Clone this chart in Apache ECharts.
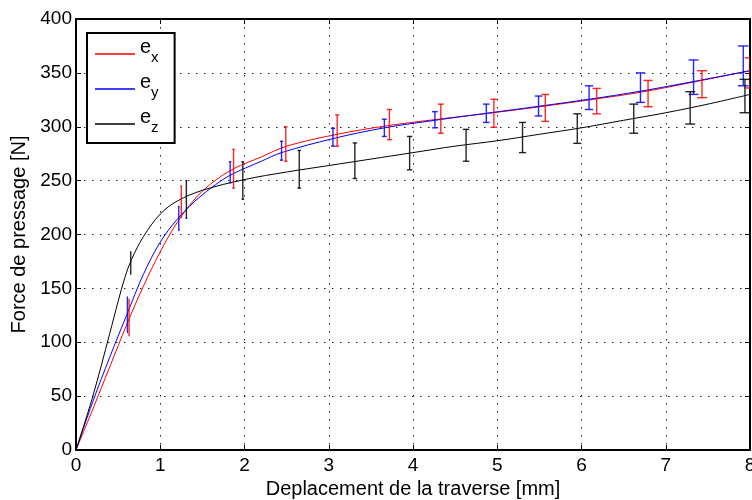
<!DOCTYPE html>
<html><head><meta charset="utf-8">
<script src="https://cdn.jsdelivr.net/npm/echarts@6/dist/echarts.min.js"></script>
<style>html,body{margin:0;padding:0;background:#fff}#c{width:752px;height:500px}</style>
</head><body><div id="c"></div>
<script>
// ---- data ----
const xTicks = [0,1,2,3,4,5,6,7,8];
const yTicks = [0,50,100,150,200,250,300,350,400];

const exX = [0,0.2,0.4,0.6,0.8,1.0,1.2,1.4,1.6,1.87,2.2,2.5,3.1,3.7,4.3,4.9,5.5,6.1,6.7,7.3,8.0];
const exY = [0,38,77,116,152,184,211,232,247,261,272,282,293,301,307,312.5,318.5,325,332,341,352];

const eyX = [0,0.2,0.4,0.6,0.8,1.0,1.2,1.4,1.6,1.83,2.2,2.44,3.05,3.66,4.26,4.87,5.49,6.09,6.7,7.33,8.0];
const eyY = [0,45,86,125,163,193,214,230,243,255,268,276,289,299,306,312.5,319,325.5,333,342,352];

const ezX = [0,0.2,0.4,0.5,0.58,0.66,0.8,1.0,1.2,1.5,2.0,2.5,3.0,3.5,4.0,4.5,5.0,5.5,6.0,6.5,7.0,7.5,8.0];
const ezY = [0,50,108,138,160,177,198,219,231,241,251,258,264,270,276,282,287,293,299,306,313,321,330];

const exErrX  = [0.63,1.25,1.87,2.49,3.10,3.72,4.33,4.96,5.57,6.18,6.79,7.43,8.0];
const exErrLo = [106,216,243,268,282,288,294,299.5,305,312,318.6,327,336];
const exErrHi = [140,245,279,300,311,316,321,325.5,330,335.6,343,352,364];

const eyErrX  = [0.61,1.22,1.83,2.44,3.05,3.66,4.26,4.87,5.49,6.09,6.70,7.33,7.92];
const eyErrLo = [109,204,248,269,282,291,299,304,310,316,322.6,330,338];
const eyErrHi = [142,226,267.5,286.5,298.5,307,314,321,328.5,338,350,362,375];

const ezErrX  = [0.65,1.31,1.98,2.65,3.31,3.96,4.63,5.30,5.95,6.62,7.29,7.94];
const ezErrLo = [163,215,232.7,243,252,260,268,276,284.6,294,302.5,313];
const ezErrHi = [184,250,267.5,278,285,291,297.6,304,312,321,332.5,344];

const names = {ex:'x', ey:'y', ez:'z'};
const colors = {ex:'#ff0000', ey:'#0000ff', ez:'#000000'};

// ---- build ----
function pairs(xs, ys){ return xs.map((x,i)=>[x, ys[i]]); }
function triples(xs, lo, hi){ return xs.map((x,i)=>[x, lo[i], hi[i]]); }

function errRender(color){
  return function(params, api){
    const x = api.value(0), lo = api.value(1), hi = api.value(2);
    const a = api.coord([x, lo]), b = api.coord([x, hi]);
    const hw = Math.max(0.4, x*0.68);
    const st = {stroke: color, lineWidth: 1.4, opacity: 0.85};
    return {type:'group', children:[
      {type:'line', shape:{x1:a[0], y1:a[1], x2:b[0], y2:b[1]}, style:st},
      {type:'line', shape:{x1:a[0]-hw, y1:a[1], x2:a[0]+hw, y2:a[1]}, style:st},
      {type:'line', shape:{x1:b[0]-hw, y1:b[1], x2:b[0]+hw, y2:b[1]}, style:st}
    ]};
  };
}

const font = 'Liberation Sans, Arial, Helvetica, sans-serif';
const dotted = {show:true, lineStyle:{color:'#222', width:1, type:[1.5,6.5]}};

function lineSeries(name, xs, ys){
  return {name, type:'line', data:pairs(xs,ys), smooth:0.35, showSymbol:false, symbol:'none',
    lineStyle:{color:colors[name], width:1}, itemStyle:{color:colors[name]}, z:3, animation:false};
}
function errSeries(name, xs, lo, hi){
  return {name:name+'_err', type:'custom', data:triples(xs,lo,hi), renderItem:errRender(colors[name]),
    encode:{x:0, y:[1,2]}, clip:true, z:4, animation:false};
}

const chart = echarts.init(document.getElementById('c'), null, {renderer:'canvas'});
chart.setOption({
  animation:false,
  backgroundColor:'#fff',
  grid:{left:76, right:2, top:19, bottom:50, show:false, containLabel:false, outerBoundsMode:'none'},
  legend:{
    data:['ex','ey','ez'], orient:'vertical', left:87, top:33,
    padding:[4,16,2,8], itemGap:1, itemWidth:40, itemHeight:16,
    icon:'path://M0,0L0.05,0L0.05,0.05Z M0,14L40,14L40,15.6L0,15.6Z',
    borderColor:'#000', borderWidth:2, backgroundColor:'#fff',
    formatter: n => '{e|e}{s|' + names[n] + '}',
    textStyle:{rich:{
      e:{fontFamily:font, fontSize:20, color:'#000', lineHeight:20, verticalAlign:'top'},
      s:{fontFamily:font, fontSize:15, color:'#000', lineHeight:15, padding:[13,0,6,0], verticalAlign:'top'}
    }}
  },
  xAxis:[{
    type:'value', min:xTicks[0], max:xTicks[xTicks.length-1], interval:1, position:'bottom',
    axisLine:{show:true, onZero:false, lineStyle:{color:'#000', width:2}},
    axisTick:{show:true, inside:true, length:5, lineStyle:{color:'#000', width:1}},
    axisLabel:{color:'#000', fontFamily:font, fontSize:19, margin:6},
    splitLine:dotted,
    name:'Deplacement de la traverse [mm]', nameLocation:'middle', nameGap:27,
    nameTextStyle:{color:'#000', fontFamily:font, fontSize:20}
  },{
    type:'value', min:xTicks[0], max:xTicks[xTicks.length-1], interval:1, position:'top',
    axisLine:{show:true, onZero:false, lineStyle:{color:'#000', width:2}},
    axisTick:{show:true, inside:true, length:5, lineStyle:{color:'#000', width:1}},
    axisLabel:{show:false}, splitLine:{show:false}
  }],
  yAxis:[{
    type:'value', min:yTicks[0], max:yTicks[yTicks.length-1], interval:50, position:'left',
    axisLine:{show:true, onZero:false, lineStyle:{color:'#000', width:2}},
    axisTick:{show:true, inside:true, length:5, lineStyle:{color:'#000', width:1}},
    axisLabel:{color:'#000', fontFamily:font, fontSize:19, margin:4},
    splitLine:dotted,
    name:'Force de pressage [N]', nameLocation:'middle', nameGap:44, nameRotate:90,
    nameTextStyle:{color:'#000', fontFamily:font, fontSize:20}
  },{
    type:'value', min:yTicks[0], max:yTicks[yTicks.length-1], interval:50, position:'right',
    axisLine:{show:true, onZero:false, lineStyle:{color:'#000', width:2}},
    axisTick:{show:true, inside:true, length:5, lineStyle:{color:'#000', width:1}},
    axisLabel:{show:false}, splitLine:{show:false}
  }],
  series:[
    lineSeries('ex', exX, exY),
    lineSeries('ey', eyX, eyY),
    lineSeries('ez', ezX, ezY),
    errSeries('ex', exErrX, exErrLo, exErrHi),
    errSeries('ey', eyErrX, eyErrLo, eyErrHi),
    errSeries('ez', ezErrX, ezErrLo, ezErrHi)
  ]
});
</script></body></html>
